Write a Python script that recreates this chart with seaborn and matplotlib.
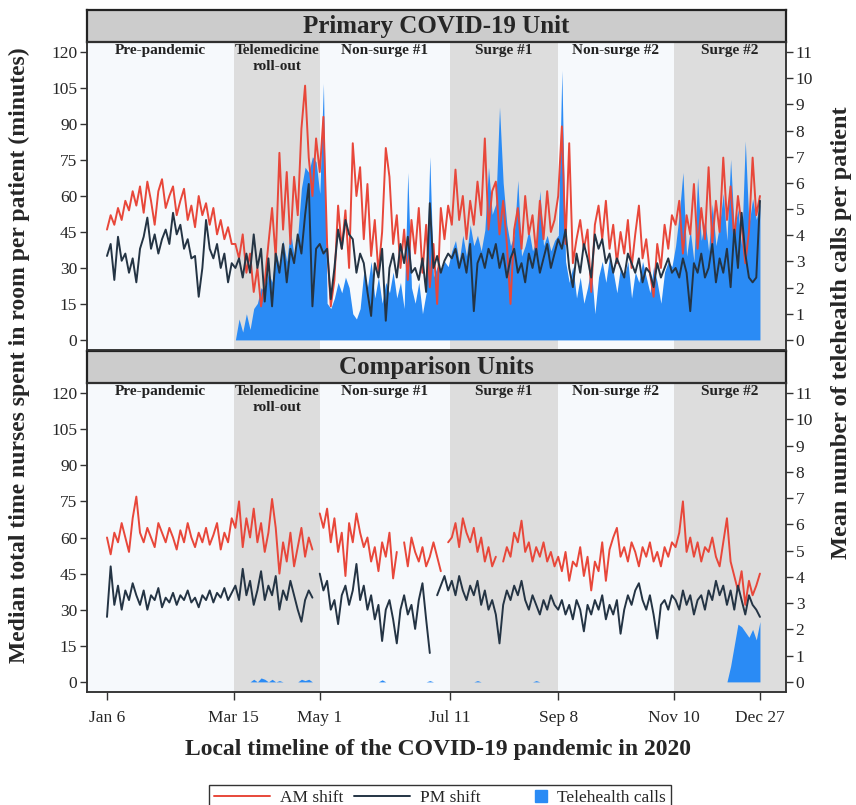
"""
Nurse in-room time and telehealth calls over 2020, primary COVID-19 unit
versus comparison units. Saves out.png.
"""

import numpy as np
import pandas as pd
import matplotlib
matplotlib.use("Agg")
import matplotlib.pyplot as plt
import matplotlib.dates as mdates
from matplotlib.lines import Line2D
from matplotlib.patches import Patch, Rectangle
from matplotlib.legend_handler import HandlerPatch
import seaborn as sns

nan = np.nan

# one value every second day, Jan 6 .. Dec 27 2020 (179 points)
DATES = pd.date_range("2020-01-06", "2020-12-27", freq="2D")

# Primary COVID-19 unit, median minutes in room per patient
top_am = [
    46, 52, 48, 55, 50, 58, 54, 62, 56, 64, 53, 66, 58, 48, 62, 67, 55, 60,
    64, 52, 58, 63, 50, 56, 47, 60, 52, 57, 48, 55, 44, 50, 42, 47, 40,
    40, 34, 44, 28, 36, 20, 30, 14, 24, 40, 55, 34, 78, 46, 70, 40, 68, 52,
    88, 106, 76, 60, 84,
    70, 93, 40, 14, 25, 56, 38, 54, 30, 82, 60, 72, 42, 65, 35, 50, 28, 45,
    80, 68, 40, 52, 30, 46, 25, 50, 36, 55, 28, 48, 22, 40, 15, 55, 42, 56,
    48, 71, 50, 60, 42, 58, 48, 66, 52, 84, 46, 62, 66, 44, 58, 40, 15, 46,
    55, 38, 60, 44, 52, 36, 58, 42, 62, 45, 50,
    60, 89, 40, 82, 32, 42, 50, 38, 46, 20, 48, 56, 42, 58, 38, 48, 32, 45,
    36, 50, 30, 44, 56, 34, 42, 28, 18, 40, 30, 48, 38, 52,
    48, 58, 36, 52, 44, 65, 38, 55, 42, 72, 40, 58, 45, 76, 50, 64, 42, 60,
    48, 32, 45, 76, 52, 60,
]
top_pm = [
    35, 40, 25, 43, 33, 36, 28, 34, 24, 38, 43, 51, 38, 44, 36, 42, 46, 40,
    53, 44, 48, 38, 42, 34, 35, 18, 30, 50, 38, 34, 40, 30, 36, 24, 32,
    30, 34, 26, 36, 28, 44, 30, 38, 16, 34, 14, 36, 28, 40, 24, 38, 32, 44,
    36, 52, 65, 14, 38,
    40, 36, 38, 17, 30, 46, 38, 50, 44, 42, 28, 36, 32, 20, 10, 32, 26, 38,
    8, 30, 36, 26, 40, 32, 43, 28, 30, 25, 34, 20, 57, 30, 35, 28, 33, 36,
    34, 38, 30, 36, 28, 40, 12, 32, 36, 30, 38, 34, 40, 30, 36, 26, 34, 38,
    28, 32, 24, 36, 30, 38, 28, 34, 40, 30, 36,
    42, 38, 46, 30, 22, 36, 28, 40, 34, 26, 44, 38, 42, 32, 36, 28, 34, 30,
    26, 36, 32, 28, 34, 24, 30, 28, 22, 32, 26, 30, 34, 28,
    30, 26, 34, 28, 12, 32, 28, 36, 26, 30, 40, 24, 34, 28, 38, 22, 46, 30,
    53, 36, 26, 24, 26, 58,
]
# mean telehealth calls per patient
top_calls = [
    0, 0, 0, 0, 0, 0, 0, 0, 0, 0, 0, 0, 0, 0, 0, 0, 0, 0,
    0, 0, 0, 0, 0, 0, 0, 0, 0, 0, 0, 0, 0, 0, 0, 0, 0,
    0, 0.8, 0.3, 1.0, 0.4, 1.2, 1.4, 2.0, 1.8, 2.6, 2.2, 3.4, 2.8, 3.8, 3.0,
    4.2, 3.2, 4.0, 5.8, 6.6, 6.4, 7.0, 6.8,
    5.6, 9.8, 1.4, 1.2, 1.6, 2.2, 1.8, 2.4, 2.0, 1.0, 0.8, 1.2, 2.6, 2.0, 3.0,
    1.6, 2.4, 1.4, 2.2, 1.8, 2.6, 1.6, 2.2, 1.2, 6.4, 2.0, 1.4, 2.2, 1.0, 1.8,
    7.0, 2.4, 2.8, 2.6, 3.0, 2.8,
    3.4, 3.8, 3.0, 4.0, 3.2, 4.4, 3.6, 4.0, 3.4, 4.2, 6.6, 4.8, 5.2, 8.9, 6.0,
    4.4, 3.6, 4.0, 6.1, 3.2, 3.6, 4.2, 3.4, 3.8, 5.7, 3.6, 4.0, 3.4, 3.8,
    4.0, 10.3, 3.0, 2.2, 2.8, 1.6, 2.4, 1.4, 2.0, 2.8, 1.0, 2.4, 3.0, 2.2, 3.2,
    2.6, 1.8, 2.8, 2.4, 3.0, 1.6, 2.6, 2.2, 3.0, 2.4, 1.8, 2.8, 2.2, 1.4, 2.6,
    3.0, 2.8,
    3.6, 4.8, 6.4, 3.2, 4.2, 3.0, 6.2, 3.8, 4.6, 3.4, 5.2, 3.6, 4.4, 5.6, 3.8,
    6.9, 4.2, 5.0, 3.6, 7.6, 4.4, 5.4, 4.6, 5.2,
]

# Comparison units
comp_am = [
    60, 53, 62, 58, 66, 60, 54, 68, 77, 62, 58, 64, 60, 56, 66, 62, 58, 64,
    60, 55, 63, 58, 66, 60, 56, 62, 58, 64, 57, 61, 66, 55, 62, 58, 68,
    64, 75, 56, 68, 60, 72, 58, 66, 54, 62, 76, 64, 45, 58, 50, 62, 48, 56,
    64, 52, 60, 55, nan,
    70, 64, 72, 58, 68, 54, 62, 44, 66, 58, 70, 62, 56, 60, 50, 56, 46, 58,
    52, 62, 43, 54, nan, 58, 48, 60, 54, 50, 56, 48, 52, 58, 52, 46, nan, 58,
    60, 66, 56, 68, 62, 58, 64, 54, 60, 50, 56, 48, 52, nan, 50, 56, 52, 62,
    58, 67, 54, 58, 50, 56, 52, 58, 50, 54, 48,
    52, 46, 54, 42, 50, 48, 56, 44, 52, 38, 50, 46, 58, 42, 55, 60, 64, 52,
    56, 50, 58, 54, 48, 56, 52, 58, 50, 54, 48, 56, 52, 58,
    56, 62, 75, 54, 60, 52, 58, 50, 56, 54, 60, 52, 48, 58, 68, 50, 44, 38,
    46, 32, 42, 36, 40, 45,
]
comp_pm = [
    27, 48, 32, 40, 30, 38, 34, 41, 36, 32, 38, 30, 36, 34, 39, 31, 35, 33,
    37, 32, 36, 34, 38, 33, 35, 31, 36, 34, 38, 33, 37, 35, 39, 34, 37,
    40, 34, 47, 36, 42, 32, 38, 46, 34, 40, 36, 44, 30, 38, 34, 42, 36, 30,
    25, 34, 38, 35, nan,
    45, 38, 42, 30, 34, 24, 36, 40, 32, 38, 49, 34, 40, 30, 36, 26, 32, 17,
    30, 34, 26, 16, 30, 36, 28, 32, 22, 34, 41, 26, 12, nan, 36, 40, 44, 38,
    42, 36, 44, 38, 34, 40, 36, 42, 32, 38, 30, 34, 28, 16, 32, 38, 34, 40,
    36, 42, 34, 30, 36, 32, 28, 34, 30, 36, 32,
    30, 34, 28, 32, 26, 34, 30, 21, 32, 28, 34, 30, 36, 26, 32, 28, 34, 20,
    30, 36, 32, 38, 41, 34, 30, 36, 28, 18, 32, 34, 30, 36,
    34, 30, 38, 32, 36, 28, 34, 36, 30, 38, 34, 42, 36, 40, 32, 38, 30, 40,
    34, 28, 36, 32, 30, 27,
]
comp_calls = [
    0, 0, 0, 0, 0, 0, 0, 0, 0, 0, 0, 0, 0, 0, 0, 0, 0, 0,
    0, 0, 0, 0, 0, 0, 0, 0, 0, 0, 0, 0, 0, 0, 0, 0, 0,
    0, 0, 0, 0, 0, 0.1, 0, 0.15, 0.1, 0, 0.1, 0, 0.05, 0, 0, 0, 0, 0,
    0.1, 0.05, 0.1, 0, 0,
    0, 0, 0, 0, 0, 0, 0, 0, 0, 0, 0, 0, 0, 0, 0, 0, 0, 0.08,
    0, 0, 0, 0, 0, 0, 0, 0, 0, 0, 0, 0, 0.05, 0, 0, 0, 0, 0,
    0, 0, 0, 0, 0, 0, 0, 0.05, 0, 0, 0, 0, 0, 0, 0, 0, 0, 0,
    0, 0, 0, 0, 0, 0.05, 0, 0, 0, 0, 0,
    0, 0, 0, 0, 0, 0, 0, 0, 0, 0, 0, 0, 0, 0, 0, 0, 0, 0,
    0, 0, 0, 0, 0, 0, 0, 0, 0, 0, 0, 0, 0, 0,
    0, 0, 0, 0, 0, 0, 0, 0, 0, 0, 0, 0, 0, 0, 0, 0.6, 1.4, 2.2,
    2.1, 1.9, 1.7, 2.0, 1.6, 2.3,
]

PHASE_NAMES = ["Pre-pandemic", "Telemedicine\nroll-out", "Non-surge #1",
               "Surge #1", "Non-surge #2", "Surge #2"]
PHASE_BOUNDS = ["2020-03-15", "2020-05-01", "2020-07-11", "2020-09-08",
                "2020-11-10"]
TICK_DATES = ["2020-01-06", "2020-03-15", "2020-05-01", "2020-07-11",
              "2020-09-08", "2020-11-10", "2020-12-27"]
TICK_LABELS = ["Jan 6", "Mar 15", "May 1", "Jul 11", "Sep 8", "Nov 10",
               "Dec 27"]

AM_COLOR = "#e8473a"
PM_COLOR = "#243444"
CALL_COLOR = "#2a8bf5"
LIGHT_BG = "#f6f9fc"
GRAY_BG = "#dddddd"

W, H = 856, 805
X0 = pd.Timestamp("2020-01-06") - pd.Timedelta(days=10.9)
X1 = pd.Timestamp("2020-01-06") + pd.Timedelta(days=370.2)
YLIM = (-4.2, 124.2)

sns.set_theme(style="ticks")
plt.rcParams["font.family"] = ["Liberation Serif", "DejaVu Serif"]


def fig_box(left, top, right, bottom):
    """pixel box -> figure fraction rect"""
    return [left / W, 1 - bottom / H, (right - left) / W, (bottom - top) / H]


def square_at_right(legend, orig_handle, xdescent, ydescent, width, height,
                    fontsize):
    # small square sitting next to its label instead of centred in the slot
    s = height * 0.95
    return Rectangle((width - s - xdescent, -ydescent + (height - s) / 2), s, s)


def draw_shift(ax, df, col, color):
    # split the series at missing days so the line shows gaps
    d = df.assign(seg=df[col].isna().cumsum()).dropna(subset=[col])
    sns.lineplot(data=d, x="date", y=col, units="seg", estimator=None,
                 color=color, lw=1.4, ax=ax, legend=False)


def draw_panel(fig, plot_box, strip_box, title, am, pm, calls, show_x):
    df = pd.DataFrame({"date": DATES, "am": am, "pm": pm, "calls": calls})

    ax = fig.add_axes(fig_box(*plot_box))
    ax2 = ax.twinx()

    draw_shift(ax, df, "am", AM_COLOR)
    draw_shift(ax, df, "pm", PM_COLOR)

    edges = [X0] + [pd.Timestamp(b) for b in PHASE_BOUNDS] + [X1]
    for i in range(len(edges) - 1):
        ax2.axvspan(edges[i], edges[i + 1], color=LIGHT_BG if i % 2 == 0 else GRAY_BG,
                    lw=0, zorder=0)
    ax2.fill_between(df["date"], df["calls"], color=CALL_COLOR, lw=0, zorder=1)

    ax.set_zorder(ax2.get_zorder() + 1)
    ax.patch.set_visible(False)

    ax.set_xlim(X0, X1)
    ax.set_ylim(*YLIM)
    ax2.set_ylim(YLIM[0] * 11 / 120, YLIM[1] * 11 / 120)
    ax.set_yticks(range(0, 121, 15))
    ax2.set_yticks(range(0, 12))
    ax.set_xlabel("")
    ax.set_ylabel("")
    ax2.set_ylabel("")

    for a in (ax, ax2):
        a.tick_params(axis="y", direction="out", length=5, width=1,
                      color="#333333", labelsize=12.5, pad=2)
        for sp in a.spines.values():
            sp.set_linewidth(1.1)
            sp.set_color("#333333")

    if show_x:
        ax.set_xticks(pd.to_datetime(TICK_DATES))
        ax.set_xticklabels(TICK_LABELS)
        ax.tick_params(axis="x", direction="out", length=6, width=1,
                       color="#333333", labelsize=12.5, pad=7)
    else:
        ax.tick_params(axis="x", bottom=False, labelbottom=False)

    for i, name in enumerate(PHASE_NAMES):
        mid = mdates.date2num(edges[i]) + (mdates.date2num(edges[i + 1])
                                           - mdates.date2num(edges[i])) / 2
        ax.text(mid, 0.992, name, transform=ax.get_xaxis_transform(),
                ha="center", va="top", fontsize=11, fontweight="bold",
                linespacing=1.25, color="#222222")

    sax = fig.add_axes(fig_box(*strip_box))
    sax.set_facecolor("#cccccc")
    sax.set_xticks([])
    sax.set_yticks([])
    for sp in sax.spines.values():
        sp.set_linewidth(1.6)
        sp.set_color("#222222")
    sax.text(0.5, 0.48, title, ha="center", va="center", fontsize=18,
             fontweight="bold", transform=sax.transAxes)
    return ax


def main():
    fig = plt.figure(figsize=(W / 100, H / 100), dpi=100)

    draw_panel(fig, (87, 42, 786, 350), (87, 10, 786, 42),
               "Primary COVID-19 Unit", top_am, top_pm, top_calls, False)
    draw_panel(fig, (87, 383, 786, 692), (87, 351, 786, 383),
               "Comparison Units", comp_am, comp_pm, comp_calls, True)

    fig.text(19 / W, 1 - 355 / H,
             "Median total time nurses spent in room per patient (minutes)",
             rotation=90, ha="center", va="center", fontsize=17,
             fontweight="bold")
    fig.text(842 / W, 1 - 333 / H,
             "Mean number of telehealth calls per patient",
             rotation=90, ha="center", va="center", fontsize=17.5,
             fontweight="bold")
    fig.text(438 / W, 1 - 749 / H,
             "Local timeline of the COVID-19 pandemic in 2020",
             ha="center", va="center", fontsize=17, fontweight="bold")

    handles = [
        Line2D([], [], color=AM_COLOR, lw=1.4),
        Line2D([], [], color=PM_COLOR, lw=1.4),
        Patch(color=CALL_COLOR),
    ]
    fig.legend(handles, ["AM shift", "PM shift", "Telehealth calls"],
               loc="center", bbox_to_anchor=(440 / W, 1 - 798 / H), ncol=3,
               frameon=True, fancybox=False, edgecolor="#333333",
               fontsize=12.5, handlelength=3.2, handletextpad=0.6,
               columnspacing=0.6, borderpad=0.3, framealpha=1,
               handler_map={Patch: HandlerPatch(patch_func=square_at_right)})

    fig.savefig("out.png", dpi=100)
    plt.close(fig)


if __name__ == "__main__":
    main()
